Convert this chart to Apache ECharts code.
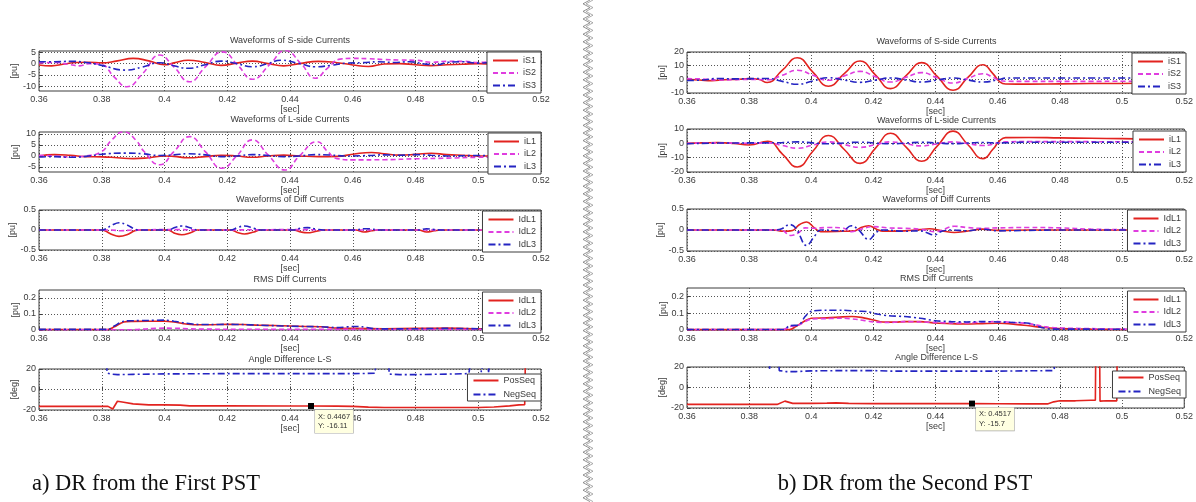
<!DOCTYPE html>
<html><head><meta charset="utf-8">
<script src="https://cdn.jsdelivr.net/npm/echarts@6/dist/echarts.min.js"></script>
<style>html,body{margin:0;padding:0;background:#fff}#c{width:1196px;height:502px}</style>
</head><body><div id="c"></div>
<script>
// ---------- time axis ----------
const T_MIN = 0.36, T_MAX = 0.52, T_STEP = 0.02;

// ---------- a) DR from the First PST ----------
const a_iS1 = [[0.360,-0.6],[0.364,-1.0],[0.368,-0.2],[0.372,0.5],[0.376,0.6],[0.380,0.3],[0.385,1.2],[0.390,2.3],[0.395,1.2],[0.400,-0.5],[0.403,0.3],[0.4075,1.5],[0.413,0.5],[0.418,-0.8],[0.423,0.2],[0.428,1.1],[0.433,0],[0.438,-1.0],[0.443,0],[0.449,1.0],[0.455,0.4],[0.460,-0.6],[0.465,-1.3],[0.470,-0.2],[0.475,0],[0.480,-0.5],[0.485,-0.9],[0.490,-0.5],[0.495,-0.3],[0.500,0],[0.505,-0.3],[0.510,0.2],[0.515,0],[0.520,0.2]];
const a_iS2 = [[0.360,0.3],[0.365,0.5],[0.370,-0.5],[0.373,-1],[0.376,0],[0.380,-0.5],[0.384,-6],[0.388,-10.3],[0.393,-4.5],[0.3985,3.8],[0.403,-1.5],[0.408,-8.1],[0.413,-1.5],[0.4185,5.2],[0.4235,-1],[0.428,-7],[0.4335,-0.5],[0.4385,5.8],[0.4435,0],[0.448,-6.5],[0.452,-2],[0.456,2],[0.460,2.3],[0.465,2.2],[0.470,1.8],[0.475,1.6],[0.480,1.5],[0.485,0.6],[0.490,1],[0.495,1],[0.500,0.5],[0.505,0.8],[0.510,0.5],[0.520,0.5]];
const a_iS3 = [[0.360,0.8],[0.365,0.8],[0.370,1.0],[0.375,0.5],[0.380,-0.8],[0.3875,-2.9],[0.393,-1.5],[0.3985,0.4],[0.403,-1],[0.4075,-2.1],[0.413,-0.5],[0.418,1.1],[0.423,0],[0.428,-1.4],[0.433,0],[0.437,1.5],[0.443,0],[0.448,-1.4],[0.453,-0.8],[0.458,0.2],[0.463,0.4],[0.468,0.8],[0.473,0.5],[0.478,0.8],[0.483,-0.2],[0.487,-0.5],[0.490,0.5],[0.495,0.8],[0.500,0.2],[0.505,0.6],[0.510,0.3],[0.520,0.4]];
const a_iL1 = [[0.360,0],[0.365,0.6],[0.370,0.3],[0.375,-0.3],[0.380,-0.4],[0.385,-0.8],[0.390,-1.2],[0.395,-0.8],[0.400,0],[0.403,-0.2],[0.4075,-0.8],[0.413,-0.3],[0.418,0.3],[0.423,0],[0.428,-0.6],[0.433,0],[0.438,0.4],[0.443,0],[0.449,-0.3],[0.455,-0.2],[0.460,0.8],[0.466,1.6],[0.470,1],[0.475,0.4],[0.480,0.7],[0.485,1.2],[0.490,0.6],[0.495,0.3],[0.500,0],[0.510,0],[0.520,0]];
const a_iL2 = [[0.360,0.3],[0.365,0],[0.370,-0.5],[0.375,0],[0.380,2],[0.383,7],[0.387,11],[0.391,7],[0.3935,2],[0.3985,-4],[0.403,2],[0.408,8.8],[0.413,2],[0.4183,-5.6],[0.423,0],[0.428,7.3],[0.433,0.5],[0.4384,-6.4],[0.443,0],[0.4486,6.5],[0.452,2],[0.455,-1.2],[0.460,-1.8],[0.470,-1.7],[0.480,-1.3],[0.490,-1],[0.500,-0.6],[0.510,-0.4],[0.520,-0.3]];
const a_iL3 = [[0.360,-0.5],[0.365,-0.3],[0.370,-0.6],[0.375,-0.2],[0.380,0.8],[0.3875,1.3],[0.393,1],[0.3985,0.2],[0.403,0.5],[0.4075,1.0],[0.413,0.5],[0.418,-0.3],[0.423,0],[0.428,0.6],[0.433,0.2],[0.438,-0.3],[0.443,0],[0.448,0.6],[0.453,0.4],[0.458,0],[0.465,0.2],[0.470,0.5],[0.475,0.3],[0.480,0.6],[0.485,0.3],[0.490,0],[0.500,0.2],[0.510,0.1],[0.520,0.1]];
const a_dL1 = [[0.36,0],[0.38,0],[0.381,-0.02],[0.3835,-0.12],[0.3855,-0.16],[0.388,-0.12],[0.3905,-0.02],[0.392,0],[0.401,0],[0.4035,-0.09],[0.4055,-0.12],[0.4085,-0.06],[0.4105,0],[0.421,0],[0.4235,-0.07],[0.4255,-0.1],[0.4285,-0.05],[0.4305,0],[0.441,0],[0.4435,-0.05],[0.4455,-0.07],[0.4485,-0.03],[0.4505,0],[0.461,0],[0.4635,-0.05],[0.466,-0.02],[0.468,0],[0.481,0],[0.4835,-0.05],[0.486,-0.02],[0.488,0],[0.52,0]];
const a_dL2 = [[0.36,0],[0.383,0],[0.386,-0.02],[0.39,0],[0.405,0.01],[0.41,0],[0.445,0.01],[0.45,0],[0.52,0]];
const a_dL3 = [[0.36,0],[0.38,0],[0.381,0.02],[0.3835,0.13],[0.3855,0.18],[0.388,0.13],[0.3905,0.02],[0.392,0],[0.401,0],[0.4035,0.07],[0.4055,0.1],[0.4085,0.05],[0.4105,0],[0.421,0],[0.4235,0.07],[0.4255,0.1],[0.4285,0.04],[0.4305,0],[0.441,0],[0.4435,0.05],[0.4455,0.06],[0.4485,0.02],[0.4505,0],[0.461,0],[0.4635,0.03],[0.4655,0.03],[0.468,0],[0.481,0],[0.4835,0.03],[0.486,0.01],[0.488,0],[0.52,0]];
const a_rL1 = [[0.36,0.003],[0.382,0.003],[0.384,0.02],[0.387,0.05],[0.39,0.054],[0.395,0.055],[0.4,0.055],[0.403,0.05],[0.406,0.04],[0.41,0.033],[0.415,0.033],[0.42,0.035],[0.425,0.034],[0.43,0.03],[0.435,0.028],[0.44,0.025],[0.445,0.022],[0.45,0.02],[0.455,0.012],[0.46,0.01],[0.47,0.008],[0.48,0.01],[0.49,0.012],[0.5,0.008],[0.51,0.006],[0.52,0.005]];
const a_rL2 = [[0.36,0.002],[0.39,0.002],[0.395,0.008],[0.4,0.012],[0.405,0.01],[0.41,0.006],[0.42,0.005],[0.44,0.004],[0.46,0.004],[0.48,0.003],[0.5,0.003],[0.52,0.002]];
const a_rL3 = [[0.36,0.004],[0.382,0.004],[0.384,0.025],[0.387,0.055],[0.39,0.058],[0.395,0.06],[0.4,0.062],[0.403,0.055],[0.406,0.045],[0.41,0.035],[0.415,0.034],[0.42,0.035],[0.425,0.034],[0.43,0.03],[0.435,0.027],[0.44,0.024],[0.445,0.022],[0.45,0.02],[0.455,0.015],[0.46,0.022],[0.463,0.02],[0.466,0.01],[0.47,0.007],[0.48,0.008],[0.49,0.01],[0.5,0.008],[0.51,0.007],[0.52,0.006]];
const a_pos = [[0.36,-16.5],[0.382,-16.5],[0.3835,-19],[0.385,-11.5],[0.387,-12.5],[0.39,-14],[0.395,-15],[0.4,-15],[0.405,-15.2],[0.408,-16],[0.42,-16],[0.44,-16.1],[0.4467,-16.11],[0.455,-16.2],[0.46,-16.5],[0.465,-17.2],[0.47,-17.6],[0.48,-17.6],[0.49,-17.5],[0.5,-17.5],[0.505,-17],[0.51,-16],[0.513,-15],[0.5148,-14.8],[0.515,25]];
const a_neg = [[0.3816,25],[0.3817,16],[0.383,15],[0.385,14.5],[0.39,14.8],[0.4,15.2],[0.42,15.5],[0.44,15.5],[0.46,15.5],[0.467,15.8],[0.4675,25],[0.4715,25],[0.4716,15],[0.475,14.5],[0.48,14.5],[0.49,15],[0.497,15.5],[0.4975,25],[0.5005,25],[0.501,17],[0.5015,25],[0.503,25],[0.5033,17],[0.5036,25]];
const a_tip = [0.4467, -16.11];

// ---------- b) DR from the Second PST ----------
const b_iS1 = [[0.360,0],[0.364,-0.5],[0.368,-1],[0.372,-0.3],[0.376,0],[0.380,0.5],[0.383,0],[0.3858,-2.3],[0.3907,6.7],[0.3955,15.8],[0.4005,5.3],[0.4055,-5.1],[0.4106,4.1],[0.4157,13.4],[0.4206,3.3],[0.4255,-6.8],[0.4305,2.7],[0.4355,12.2],[0.4405,2.1],[0.4456,-8],[0.4504,1.4],[0.4552,10.7],[0.4585,4],[0.4605,-1.5],[0.4625,-3.4],[0.470,-3.5],[0.480,-3.3],[0.490,-3.1],[0.500,-3],[0.510,-2.7],[0.520,-2.5]];
const b_iS2 = [[0.360,0.5],[0.365,0.3],[0.370,-0.5],[0.375,-0.3],[0.380,0],[0.386,-0.3],[0.3907,3],[0.3955,6.6],[0.4005,3],[0.4055,-0.7],[0.4106,2.5],[0.4157,5.8],[0.4206,1.9],[0.4255,-2],[0.4305,1.5],[0.4355,4.9],[0.4405,1.1],[0.4456,-2.7],[0.4504,0.7],[0.4552,4.1],[0.4585,1.5],[0.4605,-0.8],[0.4625,-1.4],[0.470,-1.5],[0.480,-1.5],[0.490,-1.5],[0.500,-1.4],[0.520,-1.4]];
const b_iS3 = [[0.360,-0.8],[0.365,-0.5],[0.370,0.6],[0.375,0.3],[0.380,0.5],[0.386,0.6],[0.3907,-1.5],[0.3955,-3.6],[0.4005,-1.2],[0.4055,1.2],[0.4106,-0.5],[0.4157,-2.2],[0.4206,-0.6],[0.4255,1],[0.4305,-0.5],[0.4355,-2],[0.4405,-0.5],[0.4456,1],[0.4504,-0.5],[0.4552,-2],[0.4605,0],[0.4625,0.9],[0.470,1],[0.480,1],[0.490,1],[0.500,1],[0.520,1]];
const b_iL1 = [[0.360,0],[0.365,0.3],[0.370,0.5],[0.375,0],[0.380,-1.2],[0.386,1.5],[0.3907,-7.5],[0.3955,-16.5],[0.4005,-5.5],[0.4055,5.5],[0.4106,-4.3],[0.4157,-14],[0.4206,-3.5],[0.4255,7],[0.4305,-2.7],[0.4355,-12.5],[0.4405,-2],[0.4456,8.5],[0.4504,-1],[0.4552,-10.7],[0.4585,-4],[0.4605,1.5],[0.4625,4],[0.470,4.1],[0.480,3.8],[0.490,3.5],[0.500,3.3],[0.510,3],[0.520,3]];
const b_iL2 = [[0.360,0],[0.370,0.3],[0.380,0],[0.386,0.3],[0.3907,-1.5],[0.3955,-3.4],[0.4005,-1.2],[0.4055,1],[0.4106,-0.9],[0.4157,-2.8],[0.4206,-0.9],[0.4255,1],[0.4305,-0.4],[0.4355,-1.8],[0.4405,-0.4],[0.4456,1],[0.4504,-0.2],[0.4552,-1.5],[0.4605,0.5],[0.4625,1],[0.470,1.2],[0.480,1.2],[0.500,1.1],[0.520,1.1]];
const b_iL3 = [[0.360,-0.3],[0.370,0.2],[0.380,0.3],[0.3907,0.5],[0.3955,1],[0.4005,0.3],[0.4055,-0.3],[0.4106,0.3],[0.4157,0.8],[0.4206,0.2],[0.4255,-0.3],[0.4305,0.2],[0.4355,0.7],[0.4405,0.2],[0.4456,-0.2],[0.4504,0.2],[0.4552,0.6],[0.460,0.3],[0.470,0.8],[0.520,0.7]];
const b_dL1 = [[0.36,0],[0.388,0],[0.391,-0.03],[0.394,-0.01],[0.396,0.12],[0.3985,0.19],[0.401,0.05],[0.403,-0.04],[0.41,-0.03],[0.414,-0.02],[0.416,0.06],[0.4185,0.1],[0.421,0.02],[0.423,-0.03],[0.43,-0.02],[0.435,0.01],[0.438,0.03],[0.442,-0.02],[0.446,-0.06],[0.45,-0.03],[0.455,0.02],[0.46,-0.01],[0.47,0],[0.52,0]];
const b_dL2 = [[0.36,0],[0.39,0],[0.3935,-0.13],[0.396,-0.06],[0.398,0.05],[0.401,0.04],[0.405,0.06],[0.41,0.05],[0.413,-0.04],[0.416,0.02],[0.42,0.08],[0.425,0.05],[0.43,0.04],[0.435,0.02],[0.44,-0.04],[0.446,0.09],[0.45,0.06],[0.455,0.04],[0.46,0.05],[0.47,0.06],[0.48,0.05],[0.49,0.02],[0.5,0.01],[0.52,0]];
const b_dL3 = [[0.36,0],[0.388,0],[0.3905,0.03],[0.393,0.13],[0.395,0.05],[0.3985,-0.37],[0.401,-0.15],[0.403,0],[0.41,-0.02],[0.4128,0.1],[0.415,0.02],[0.4185,-0.23],[0.421,-0.05],[0.423,0],[0.43,-0.03],[0.435,-0.02],[0.437,-0.06],[0.4395,-0.12],[0.442,-0.03],[0.445,0],[0.45,-0.02],[0.455,0.02],[0.46,-0.02],[0.47,-0.01],[0.48,0],[0.52,0]];
const b_rL1 = [[0.36,0.002],[0.393,0.002],[0.395,0.02],[0.398,0.055],[0.4,0.07],[0.405,0.072],[0.41,0.078],[0.413,0.08],[0.416,0.075],[0.42,0.06],[0.423,0.048],[0.427,0.047],[0.43,0.05],[0.435,0.05],[0.44,0.042],[0.445,0.038],[0.45,0.036],[0.455,0.038],[0.46,0.04],[0.465,0.035],[0.47,0.025],[0.475,0.015],[0.48,0.008],[0.49,0.005],[0.5,0.003],[0.52,0.002]];
const b_rL2 = [[0.36,0.002],[0.391,0.002],[0.393,0.02],[0.396,0.03],[0.4,0.065],[0.405,0.068],[0.41,0.07],[0.415,0.062],[0.42,0.048],[0.425,0.045],[0.43,0.05],[0.435,0.048],[0.44,0.045],[0.445,0.042],[0.45,0.042],[0.455,0.048],[0.46,0.05],[0.465,0.045],[0.47,0.038],[0.475,0.02],[0.48,0.012],[0.49,0.008],[0.5,0.005],[0.52,0.003]];
const b_rL3 = [[0.36,0.003],[0.391,0.003],[0.393,0.025],[0.396,0.03],[0.398,0.08],[0.4,0.112],[0.405,0.118],[0.41,0.118],[0.415,0.112],[0.418,0.11],[0.421,0.095],[0.425,0.085],[0.43,0.08],[0.435,0.07],[0.44,0.055],[0.445,0.05],[0.45,0.048],[0.455,0.05],[0.46,0.048],[0.465,0.045],[0.47,0.04],[0.474,0.015],[0.478,0.005],[0.49,0.005],[0.5,0.004],[0.52,0.003]];
const b_pos = [[0.36,-16.5],[0.389,-16.5],[0.3915,-13.3],[0.394,-15.5],[0.4,-15.5],[0.405,-15.2],[0.408,-15],[0.412,-15.5],[0.42,-15.7],[0.44,-15.7],[0.4517,-15.7],[0.46,-15.8],[0.47,-16],[0.476,-16],[0.478,-14],[0.48,-13],[0.485,-13],[0.49,-12.5],[0.4914,-12.5],[0.4915,25],[0.4928,25],[0.4929,-13.3],[0.495,-13],[0.4983,-13],[0.4984,25]];
const b_neg = [[0.3865,25],[0.3866,17],[0.3867,25],[0.3895,25],[0.3897,16.5],[0.392,15.5],[0.395,15.5],[0.4,16.2],[0.41,16.5],[0.42,16.5],[0.425,16],[0.44,16],[0.46,16],[0.478,16.5],[0.4787,25]];
const b_tip = [0.4517, -15.7];

// ---------- titles / captions ----------
const titles = ['Waveforms of S-side Currents','Waveforms of L-side Currents','Waveforms of Diff Currents','RMS Diff Currents','Angle Difference L-S'];
const captions = ['a) DR from the First PST','b) DR from the Second PST'];

// ---------- layout ----------
const W = 1196;
const panels = [
  {left:39, width:502, capX:146, tip:a_tip, rows:[
    {top:51, h:40, min:-12.2, max:5.6, ticks:[-10,-5,0,5], tY:41, lTop:52, unit:'[pu]', s:[['iS1',a_iS1,'r'],['iS2',a_iS2,'m'],['iS3',a_iS3,'b']], sm:0.5},
    {top:132, h:40, min:-7.3, max:10.9, ticks:[-5,0,5,10], tY:120, lTop:133, unit:'[pu]', s:[['iL1',a_iL1,'r'],['iL2',a_iL2,'m'],['iL3',a_iL3,'b']], sm:0.5},
    {top:210, h:40, min:-0.5, max:0.5, ticks:[-0.5,0,0.5], tY:200, lTop:211, unit:'[pu]', s:[['IdL1',a_dL1,'r'],['IdL2',a_dL2,'m'],['IdL3',a_dL3,'b']], sm:0.4},
    {top:290, h:40, min:0, max:0.25, ticks:[0,0.1,0.2], tY:280, lTop:292, unit:'[pu]', s:[['IdL1',a_rL1,'r'],['IdL2',a_rL2,'m'],['IdL3',a_rL3,'b']], sm:0.3},
    {top:369, h:41, min:-20, max:20, ticks:[-20,0,20], tY:360, lTop:374, unit:'[deg]', s:[['PosSeq',a_pos,'r'],['NegSeq',a_neg,'b']], sm:false, tip:true}
  ]},
  {left:687, width:499, capX:905, tip:b_tip, rows:[
    {top:52, h:41, min:-10, max:20, ticks:[-10,0,10,20], tY:42, lTop:53, unit:'[pu]', s:[['iS1',b_iS1,'r'],['iS2',b_iS2,'m'],['iS3',b_iS3,'b']], sm:0.5},
    {top:129, h:43, min:-20, max:10, ticks:[-20,-10,0,10], tY:121, lTop:131, unit:'[pu]', s:[['iL1',b_iL1,'r'],['iL2',b_iL2,'m'],['iL3',b_iL3,'b']], sm:0.5},
    {top:209, h:42, min:-0.5, max:0.5, ticks:[-0.5,0,0.5], tY:200, lTop:210, unit:'[pu]', s:[['IdL1',b_dL1,'r'],['IdL2',b_dL2,'m'],['IdL3',b_dL3,'b']], sm:0.4},
    {top:288, h:42, min:0, max:0.25, ticks:[0,0.1,0.2], tY:279, lTop:291, unit:'[pu]', s:[['IdL1',b_rL1,'r'],['IdL2',b_rL2,'m'],['IdL3',b_rL3,'b']], sm:0.3},
    {top:367, h:41, min:-20, max:20, ticks:[-20,0,20], tY:358, lTop:371, unit:'[deg]', s:[['PosSeq',b_pos,'r'],['NegSeq',b_neg,'b']], sm:false, tip:true}
  ]}
];

const STY = {
  r:{color:'#e2231f', type:'solid'},
  m:{color:'#df3ddf', type:[5,3]},
  b:{color:'#2424c2', type:[7,3,2,3]}
};
const FONT = '"Liberation Sans", Arial, sans-serif';
const TXT = '#3a3a3a';

const grid=[], xAxis=[], yAxis=[], series=[], legend=[], graphic=[];
panels.forEach((p, pi) => {
  p.rows.forEach((r, ri) => {
    const gi = grid.length;
    grid.push({left:p.left, top:r.top, width:p.width, height:r.h, show:true, borderColor:'#3c3c3c', borderWidth:1, backgroundColor:'#fff', containLabel:false});
    xAxis.push({type:'value', gridIndex:gi, min:T_MIN, max:T_MAX, interval:T_STEP,
      name:'[sec]', nameLocation:'middle', nameGap:14, nameTextStyle:{fontSize:9, color:TXT, fontFamily:FONT},
      axisLine:{show:false}, axisTick:{show:true, inside:true, length:3, lineStyle:{color:'#3c3c3c'}},
      axisLabel:{fontSize:9, color:TXT, fontFamily:FONT, margin:4, formatter:v => String(parseFloat(v.toFixed(4)))},
      splitLine:{show:true, lineStyle:{type:[1,2], color:'#555', width:1}}});
    yAxis.push({type:'value', gridIndex:gi, min:r.min, max:r.max,
      name:r.unit, nameLocation:'middle', nameGap:19, nameRotate:90, nameTextStyle:{fontSize:9, color:TXT, fontFamily:FONT},
      axisLine:{show:false}, axisTick:{show:true, inside:true, length:3, customValues:r.ticks, lineStyle:{color:'#3c3c3c'}},
      axisLabel:{fontSize:9, color:TXT, fontFamily:FONT, margin:3, customValues:r.ticks, showMinLabel:true, showMaxLabel:true},
      splitLine:{show:true, lineStyle:{type:[1,2], color:'#555', width:1}}});
    r.s.forEach(([name, data, c], si) => {
      const sr = {type:'line', name, xAxisIndex:gi, yAxisIndex:gi, data, symbol:'none', smooth:r.sm, clip:true,
        lineStyle:{color:STY[c].color, type:STY[c].type, width:1.6}, itemStyle:{color:STY[c].color}, silent:true, animation:false};
      if (r.tip && si === 0) {
        sr.markPoint = {silent:true, symbol:'rect', symbolSize:6, itemStyle:{color:'#000'},
          data:[{coord:p.tip, value:p.tip[1]}],
          label:{show:true, position:[7,7], fontSize:7.5, color:'#333', fontFamily:FONT, lineHeight:9.5,
            backgroundColor:'#ffffe1', borderColor:'#a8a8a8', borderWidth:0.6, padding:[2,3,2,3], align:'left',
            formatter:'X: ' + p.tip[0] + '\nY: ' + p.tip[1]}};
      }
      series.push(sr);
    });
    const two = r.s.length === 2;
    legend.push({data:r.s.map(x => x[0]), orient:'vertical', right:W - (p.left + p.width), top:r.lTop,
      backgroundColor:'#fff', borderColor:'#3c3c3c', borderWidth:1, padding:two ? [2,5,2,5] : [4,5,3,5],
      itemWidth:25, itemHeight:8, itemGap:two ? 5 : 3.5, selectedMode:false,
      itemStyle:{opacity:0},
      textStyle:{fontSize:9, color:TXT, fontFamily:FONT}});
    graphic.push({type:'text', x:p.left + p.width/2, y:r.tY, silent:true,
      style:{text:titles[ri], align:'center', verticalAlign:'middle', fontSize:9, fontFamily:FONT, fill:TXT}});
  });
  graphic.push({type:'text', x:p.capX, y:484, silent:true,
    style:{text:captions[pi], align:'center', verticalAlign:'middle', fontSize:22.5, fontFamily:'"Liberation Serif", "Times New Roman", serif', fill:'#111'}});
});

// decorative zigzag separator between the two panels
const zz = [];
for (let y = 0, k = 0; y <= 502; y += 3.8, k++) zz.push([k % 2 ? 583 : 590, y]);
graphic.push({type:'polyline', silent:true, shape:{points:zz}, style:{stroke:'#777', lineWidth:0.8, fill:null}});
graphic.push({type:'polyline', silent:true, shape:{points:zz.map(([x,y]) => [x + 3, y])}, style:{stroke:'#999', lineWidth:0.8, fill:null}});

const chart = echarts.init(document.getElementById('c'), null, {renderer:'canvas', width:1196, height:502});
chart.setOption({animation:false, backgroundColor:'#fff', grid, xAxis, yAxis, series, legend, graphic});
</script>
</body></html>
